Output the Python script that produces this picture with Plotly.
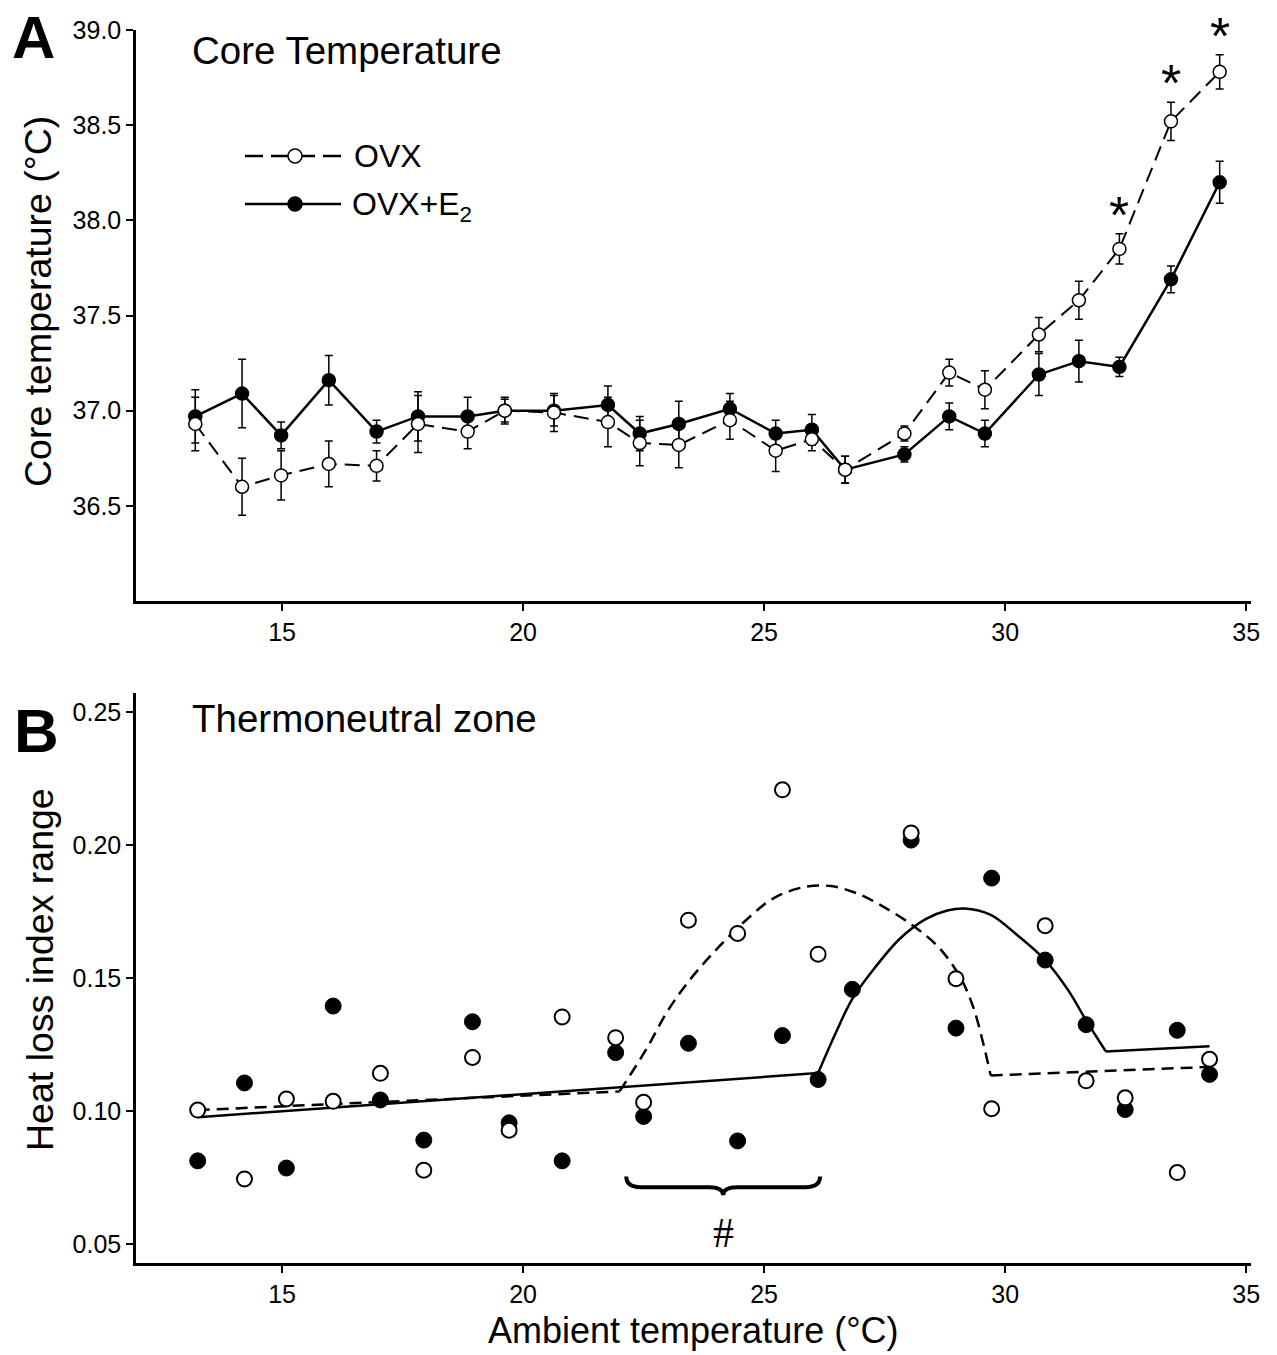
import plotly.graph_objects as go

# ---------------- Data: panel A (core temperature) ----------------
amb_A = [13.2, 14.17, 14.98, 15.97, 16.96, 17.82, 18.85, 19.62, 20.64, 21.76, 22.42, 23.23,
         24.29, 25.24, 25.99, 26.68, 27.91, 28.84, 29.58, 30.7, 31.53, 32.37, 33.44, 34.45]
ovx_core = [36.93, 36.60, 36.66, 36.72, 36.71, 36.93, 36.89, 37.00, 36.99, 36.94, 36.83, 36.82,
            36.95, 36.79, 36.85, 36.69, 36.88, 37.20, 37.11, 37.40, 37.58, 37.85, 38.52, 38.78]
ovx_core_err = [0.14, 0.15, 0.13, 0.12, 0.08, 0.15, 0.09, 0.07, 0.10, 0.13, 0.12, 0.12,
                0.10, 0.11, 0.06, 0.07, 0.04, 0.07, 0.10, 0.09, 0.10, 0.08, 0.10, 0.09]
e2_core = [36.97, 37.09, 36.87, 37.16, 36.89, 36.97, 36.97, 37.00, 37.00, 37.03, 36.88, 36.93,
           37.01, 36.88, 36.90, 36.69, 36.77, 36.97, 36.88, 37.19, 37.26, 37.23, 37.69, 38.20]
e2_core_err = [0.14, 0.18, 0.07, 0.13, 0.06, 0.13, 0.10, 0.06, 0.08, 0.10, 0.09, 0.12,
               0.08, 0.07, 0.08, 0.07, 0.04, 0.07, 0.07, 0.11, 0.11, 0.05, 0.07, 0.11]
star_x = [32.37, 33.44, 34.45]   # significance markers (OVX vs OVX+E2)

# ---------------- Data: panel B (heat loss index range) ----------------
amb_B = [13.25, 14.22, 15.09, 16.06, 17.04, 17.94, 18.95, 19.71, 20.81, 21.92, 22.5, 23.43,
         24.45, 25.38, 26.12, 26.83, 28.05, 28.98, 29.72, 30.83, 31.68, 32.49, 33.57, 34.24]
ovx_hli = [0.1005, 0.0746, 0.1047, 0.1038, 0.1143, 0.0779, 0.1203, 0.0929, 0.1355, 0.1277, 0.1034, 0.1719,
           0.1669, 0.2209, 0.1591, None, 0.2047, 0.1499, 0.1010, 0.1698, 0.1115, 0.1051, 0.0770, 0.1196]
e2_hli = [0.0814, 0.1107, 0.0787, 0.1396, 0.1043, 0.0892, 0.1337, 0.0957, 0.0814, 0.1221, 0.0981, 0.1256,
          0.0889, 0.1285, 0.1120, 0.1459, 0.2020, 0.1313, 0.1877, 0.1569, 0.1326, 0.1007, 0.1305, 0.1139]

# fitted curves
ovx_fit_lin1_x = [13.25, 22.0]
ovx_fit_lin1_y = [0.1005, 0.1075]
ovx_fit_curve_x = [22.0, 22.54, 22.99, 23.43, 23.97, 24.6, 25.22, 25.85, 26.39, 26.92, 27.46,
                   28.09, 28.62, 29.07, 29.34, 29.56, 29.7]
ovx_fit_curve_y = [0.1075, 0.1229, 0.1375, 0.1488, 0.1601, 0.1715, 0.1804, 0.1844, 0.1847, 0.1820, 0.1771,
                   0.1698, 0.1617, 0.1504, 0.1391, 0.1245, 0.1135]
ovx_fit_lin2_x = [29.7, 34.24]
ovx_fit_lin2_y = [0.1135, 0.1167]

e2_fit_lin1_x = [13.25, 26.12]
e2_fit_lin1_y = [0.0978, 0.1144]
e2_fit_curve_x = [26.12, 26.48, 26.83, 27.28, 27.82, 28.35, 28.8, 29.16, 29.7, 30.23, 30.83,
                  31.31, 31.68, 32.09]
e2_fit_curve_y = [0.1144, 0.1293, 0.1423, 0.1536, 0.1650, 0.1723, 0.1755, 0.1763, 0.1739, 0.1666, 0.1569,
                  0.1455, 0.1342, 0.1225]
e2_fit_lin2_x = [32.09, 34.24]
e2_fit_lin2_y = [0.1225, 0.1245]

brace_x = [22.14, 26.16]   # span of the "#" bracket
brace_y = 0.0755

# ---------------- Figure ----------------
W, H = 1277, 1355
ML, MR, MT, MB = 136, 26, 30, 92
PW, PH = W - ML - MR, H - MT - MB


def px(xpix):
    return (xpix - ML) / PW


def py(ypix):
    return (H - MB - ypix) / PH


FONT = "Liberation Sans, Arial, sans-serif"
fig = go.Figure()

err_style = dict(type="data", color="black", thickness=1.5, width=4)

# Panel A
fig.add_trace(go.Scatter(
    x=amb_A, y=e2_core, mode="lines+markers", xaxis="x", yaxis="y",
    line=dict(color="black", width=2.5),
    marker=dict(symbol="circle", size=13, color="black", line=dict(color="black", width=1.5)),
    error_y=dict(array=e2_core_err, **err_style), showlegend=False))
fig.add_trace(go.Scatter(
    x=amb_A, y=ovx_core, mode="lines+markers", xaxis="x", yaxis="y",
    line=dict(color="black", width=2, dash="15px,8px"),
    marker=dict(symbol="circle", size=13, color="white", line=dict(color="black", width=1.5)),
    error_y=dict(array=ovx_core_err, **err_style), showlegend=False))

# Panel B fits
for xs, ys, shape in [(e2_fit_lin1_x, e2_fit_lin1_y, "linear"),
                      (e2_fit_curve_x, e2_fit_curve_y, "spline"),
                      (e2_fit_lin2_x, e2_fit_lin2_y, "linear")]:
    fig.add_trace(go.Scatter(x=xs, y=ys, mode="lines", xaxis="x2", yaxis="y2",
                             line=dict(color="black", width=2.5, shape=shape), showlegend=False))
for xs, ys, shape in [(ovx_fit_lin1_x, ovx_fit_lin1_y, "linear"),
                      (ovx_fit_curve_x, ovx_fit_curve_y, "spline"),
                      (ovx_fit_lin2_x, ovx_fit_lin2_y, "linear")]:
    fig.add_trace(go.Scatter(x=xs, y=ys, mode="lines", xaxis="x2", yaxis="y2",
                             line=dict(color="black", width=2.5, dash="12px,7px", shape=shape),
                             showlegend=False))

# Panel B points
fig.add_trace(go.Scatter(
    x=amb_B, y=e2_hli, mode="markers", xaxis="x2", yaxis="y2",
    marker=dict(symbol="circle", size=16, color="black", line=dict(color="black", width=1)),
    showlegend=False))
fig.add_trace(go.Scatter(
    x=amb_B, y=ovx_hli, mode="markers", xaxis="x2", yaxis="y2",
    marker=dict(symbol="circle", size=15, color="white", line=dict(color="black", width=2)),
    showlegend=False))

axis_common = dict(showline=True, linecolor="black", linewidth=2.5, ticks="outside",
                   ticklen=7, tickwidth=2, tickcolor="black", showgrid=False, zeroline=False,
                   tickfont=dict(family=FONT, size=25, color="black"))

domA = [py(601), 1.0]
domB = [0.0, py(693)]
xr = [11.97, 35.1]
fig.update_layout(
    width=W, height=H, margin=dict(l=ML, r=MR, t=MT, b=MB),
    paper_bgcolor="white", plot_bgcolor="white",
    font=dict(family=FONT, color="black"),
    xaxis=dict(domain=[0, 1], anchor="y", range=xr, tickvals=[15, 20, 25, 30, 35], **axis_common),
    yaxis=dict(domain=domA, anchor="x", range=[36.0, 39.0],
               tickvals=[36.5, 37.0, 37.5, 38.0, 38.5, 39.0],
               ticktext=["36.5", "37.0", "37.5", "38.0", "38.5", "39.0"], **axis_common),
    xaxis2=dict(domain=[0, 1], anchor="y2", range=xr, tickvals=[15, 20, 25, 30, 35], **axis_common),
    yaxis2=dict(domain=domB, anchor="x2", range=[0.043, 0.2573],
                tickvals=[0.05, 0.10, 0.15, 0.20, 0.25],
                ticktext=["0.05", "0.10", "0.15", "0.20", "0.25"], **axis_common),
)

ann = []


def paper_text(x, y, text, size, xanchor="center", bold=False, angle=0, family=FONT):
    ann.append(dict(xref="paper", yref="paper", x=x, y=y, text=("<b>%s</b>" % text) if bold else text,
                    showarrow=False, xanchor=xanchor, yanchor="middle", textangle=angle,
                    font=dict(family=family, size=size, color="black")))


paper_text(px(33), py(37), "A", 60, bold=True)
paper_text(px(36), py(730), "B", 62, bold=True)
paper_text(px(190), py(50), "Core Temperature", 38.5, xanchor="left")
paper_text(px(190), py(718), "Thermoneutral zone", 38.5, xanchor="left")
paper_text(px(38), py(302), "Core temperature (°C)", 37.5, angle=-90)
paper_text(px(40), py(970), "Heat loss index range", 37.5, angle=-90)
paper_text(px(693), py(1330), "Ambient temperature (°C)", 36)

# legend (manual)
paper_text(px(352), py(156), "OVX", 32, xanchor="left")
paper_text(px(350), py(206), "OVX+E<sub>2</sub>", 32, xanchor="left")

shapes = []
shapes.append(dict(type="line", xref="paper", yref="paper", x0=px(245), x1=px(341), y0=py(156), y1=py(156),
                   line=dict(color="black", width=2.5, dash="18px,8px")))
shapes.append(dict(type="line", xref="paper", yref="paper", x0=px(245), x1=px(341), y0=py(204), y1=py(204),
                   line=dict(color="black", width=2.5)))
for ycen, fill in [(156, "white"), (204, "black")]:
    shapes.append(dict(type="circle", xref="paper", yref="paper", xsizemode="pixel", ysizemode="pixel",
                       xanchor=px(295), yanchor=py(ycen), x0=-7, x1=7, y0=-7, y1=7,
                       fillcolor=fill, line=dict(color="black", width=1.5)))

# significance asterisks
for sx in star_x:
    i = amb_A.index(sx)
    ann.append(dict(xref="x", yref="y", x=sx, y=ovx_core[i] + ovx_core_err[i], text="*",
                    showarrow=False, xanchor="center", yanchor="bottom", yshift=-12,
                    font=dict(family=FONT, size=52, color="black")))

# bracket with "#"
bx0, bx1 = brace_x
bm = (bx0 + bx1) / 2
yl = brace_y - 0.004
yt = brace_y - 0.007
path = (f"M {bx0},{brace_y} Q {bx0},{yl} {bx0 + 0.3},{yl} L {bm - 0.3},{yl} "
        f"Q {bm},{yl} {bm},{yt} Q {bm},{yl} {bm + 0.3},{yl} L {bx1 - 0.3},{yl} "
        f"Q {bx1},{yl} {bx1},{brace_y}")
shapes.append(dict(type="path", xref="x2", yref="y2", path=path, line=dict(color="black", width=4)))
ann.append(dict(xref="x2", yref="y2", x=bm, y=0.0541, text="#", showarrow=False,
                xanchor="center", yanchor="middle",
                font=dict(family="Liberation Serif, Times New Roman, serif", size=42, color="black")))

fig.update_layout(annotations=ann, shapes=shapes)
fig.write_html("out.html")
